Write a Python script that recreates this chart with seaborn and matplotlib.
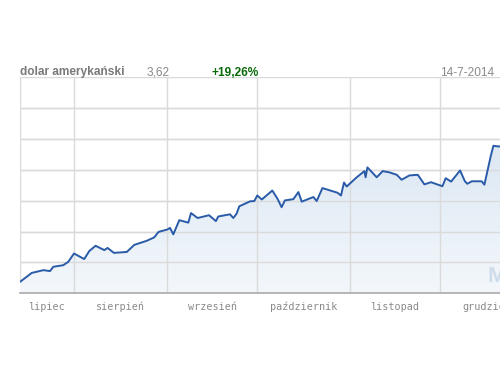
import numpy as np
import pandas as pd
import matplotlib
matplotlib.use("Agg")
import matplotlib.pyplot as plt
import seaborn as sns
from matplotlib.colors import LinearSegmentedColormap

# ---- data ----
days = [0, 3.9, 7.8, 10, 11.1, 14.4, 16.1, 18, 21.4, 23.1, 25.2, 28.1, 29.2, 31.3, 35.6,
        38.1, 42.2, 44.7, 46.2, 49.2, 50, 51.1, 53.1, 56.1, 57, 59.2, 63, 65.3, 66.1, 70,
        71.1, 72.2, 73.1, 76.7, 78.1, 79.1, 80.6, 84.1, 85.8, 87.2, 88.3, 91.1, 92.8, 93.9,
        97.8, 98.9, 100.8, 105.8, 107, 108, 108.9, 112, 114.8, 115.2, 115.8, 118.9, 120.9,
        123.1, 125.6, 127.2, 129.8, 132.6, 134.8, 137, 140.8, 141.9, 143.7, 146.7, 148.3,
        149.1, 150.6, 153.9, 154.8, 156.9, 157.8, 159.4, 161]
rates = [3.037, 3.066, 3.075, 3.072, 3.086, 3.091, 3.102, 3.129, 3.111, 3.137, 3.154, 3.140,
         3.147, 3.131, 3.134, 3.157, 3.170, 3.181, 3.199, 3.207, 3.212, 3.191, 3.237, 3.229,
         3.260, 3.244, 3.253, 3.234, 3.249, 3.256, 3.244, 3.258, 3.282, 3.298, 3.299, 3.317,
         3.304, 3.333, 3.307, 3.279, 3.301, 3.305, 3.328, 3.297, 3.312, 3.299, 3.341, 3.326,
         3.317, 3.359, 3.346, 3.374, 3.396, 3.376, 3.408, 3.376, 3.396, 3.392, 3.384, 3.368,
         3.382, 3.384, 3.353, 3.360, 3.347, 3.373, 3.362, 3.398, 3.363, 3.355, 3.363, 3.363,
         3.352, 3.444, 3.478, 3.476, 3.476]

month_starts = [18, 49, 79, 110, 140, 171]
month_label_pos = [9, 33.5, 64, 94.5, 125, 155.5]
month_labels = ["lipiec", "sierpień", "wrzesień", "październik", "listopad", "grudzień"]
y_grid = [3.1, 3.2, 3.3, 3.4, 3.5, 3.6, 3.7]

title_name = "dolar amerykański"
title_value = "3,62"
title_change = "+19,26%"
title_date = "14-7-2014"

df = pd.DataFrame({"day": days, "rate": rates})

sns.set_theme(style="white")
plt.rcParams['font.family'] = ['Liberation Sans', 'DejaVu Sans']

fig = plt.figure(figsize=(5, 3.75), dpi=100)
W, H = 500, 375
x0, x1 = 20, 533
ytop, ybot = 77.3, 293.3
ax = fig.add_axes([x0 / W, (H - ybot) / H, (x1 - x0) / W, (ybot - ytop) / H])
ax.set_xlim(0, 171)
ax.set_ylim(3.0, 3.7)

# gradient fill under the line
poly = ax.fill_between(df["day"], df["rate"], 3.0, color="none", lw=0)
grad = np.linspace(0, 1, 256).reshape(-1, 1)
cmap = LinearSegmentedColormap.from_list("g", ["#f3f7fb", "#dbe7f3"])
im = ax.imshow(grad, cmap=cmap, aspect="auto", extent=[0, 171, 3.0, 3.5],
               origin="lower", zorder=1)
im.set_clip_path(poly.get_paths()[0], transform=ax.transData)

# grid
for g in y_grid:
    ax.axhline(g, color="#dadada", lw=1, zorder=0.5)
ax.axvline(0, color="#dadada", lw=1, zorder=0.5)
for m in month_starts:
    ax.axvline(m, color="#dadada", lw=1, zorder=2)
for g in y_grid[:-1]:
    ax.axhline(g, color="#dadada", lw=1, zorder=2)

sns.lineplot(data=df, x="day", y="rate", ax=ax, color="#2a5ba8", lw=1.4, zorder=3)

ax.set_xticks(month_label_pos)
ax.set_xticklabels(month_labels, family="DejaVu Sans Mono", fontsize=7.3, color="#8a8a8a")
ax.tick_params(axis="x", length=0, pad=6)
ax.set_yticks([])
ax.set_xlabel("")
ax.set_ylabel("")
for s in ["top", "right", "left"]:
    ax.spines[s].set_visible(False)
ax.spines["bottom"].set_color("#aaaaaa")
ax.spines["bottom"].set_linewidth(1.2)

# watermark (cut off at the right edge, as in the reference)
ax.text(155.8, 3.022, "M", fontsize=16, color="#cfdcec", fontweight="bold",
        zorder=2.5, va="bottom", ha="left")

by = (H - 75.5) / H
fig.text(20 / W, by, title_name, fontsize=8.6, fontweight="bold", color="#7a7a7a", va="baseline")
fig.text(147 / W, by, title_value, fontsize=8.6, color="#8a8a8a", va="baseline")
fig.text(212 / W, by, title_change, fontsize=8.6, fontweight="bold", color="#0a6a0a", va="baseline")
fig.text(494 / W, by, title_date, fontsize=8.6, color="#8a8a8a", va="baseline", ha="right")

fig.savefig("out.png", dpi=100)
